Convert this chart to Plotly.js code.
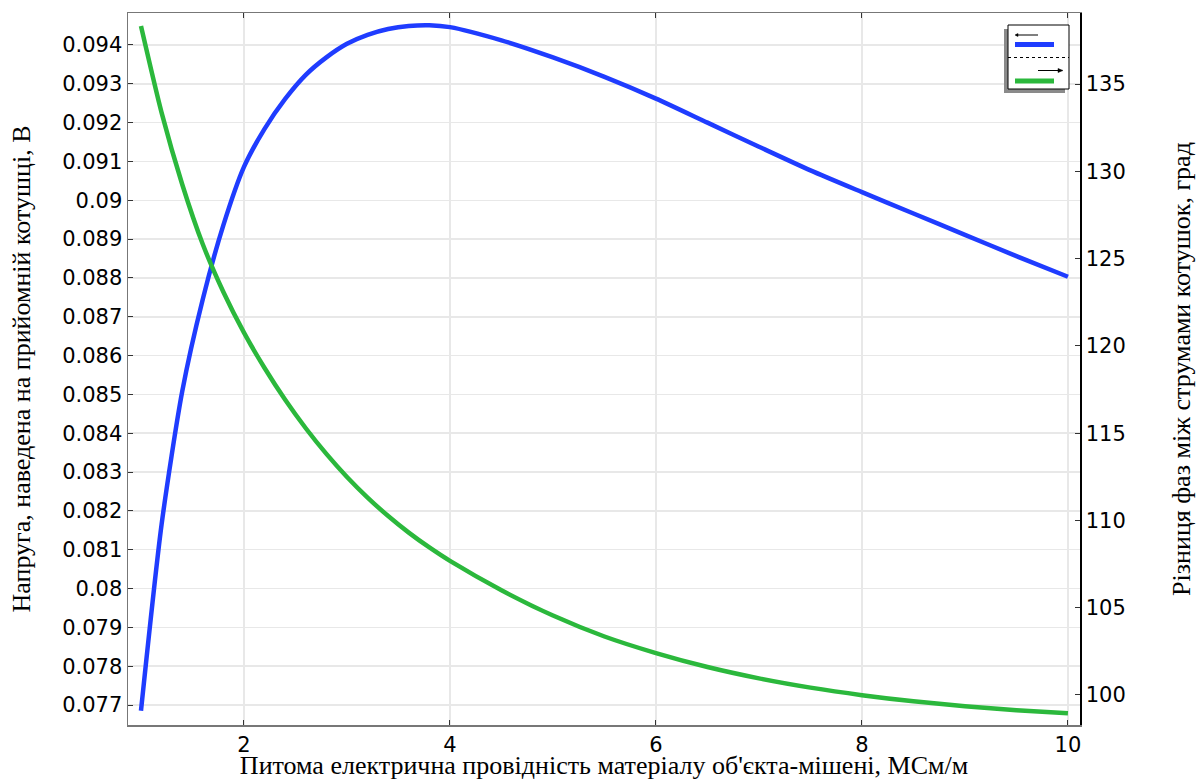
<!DOCTYPE html>
<html>
<head>
<meta charset="utf-8">
<script src="https://cdn.plot.ly/plotly-3.0.1.min.js"></script>
<style>html,body{margin:0;padding:0;background:#fff;}#chart{width:1201px;height:780px;}</style>
</head>
<body>
<div id="chart"></div>
<script>
// Conductivity, MS/m
const conductivity = [1.0, 1.2, 1.4, 1.6, 1.8, 2.0, 2.2, 2.4, 2.6, 2.8, 3.0, 3.2, 3.4, 3.6, 3.8, 4.0,
  4.5, 5.0, 5.5, 6.0, 6.5, 7.0, 7.5, 8.0, 8.5, 9.0, 9.5, 10.0];
// Voltage induced in receiving coil, V (left axis)
const voltage = [0.07685, 0.08165, 0.08507, 0.08745, 0.08936, 0.09086, 0.09184, 0.09261, 0.09323, 0.09368,
  0.09403, 0.09426, 0.09441, 0.09449, 0.09451, 0.09446,
  0.09412, 0.09368, 0.09318, 0.09262, 0.092, 0.09138, 0.09077, 0.09021, 0.08966, 0.08911, 0.08856, 0.08803];
// Phase difference between coil currents, deg (right axis)
const phase = [138.32, 133.36, 129.26, 125.82, 123.09, 120.76, 118.73, 116.91, 115.28, 113.81,
  112.49, 111.31, 110.25, 109.3, 108.45, 107.68,
  106.0, 104.55, 103.35, 102.4, 101.6, 100.95, 100.42, 99.99, 99.64, 99.36, 99.13, 98.95];

const xTickVals = [2, 4, 6, 8, 10];
const yTickVals = [0.077, 0.078, 0.079, 0.08, 0.081, 0.082, 0.083, 0.084, 0.085, 0.086, 0.087, 0.088,
  0.089, 0.09, 0.091, 0.092, 0.093, 0.094];
const yTickText = ['0.077', '0.078', '0.079', '0.08', '0.081', '0.082', '0.083', '0.084', '0.085', '0.086',
  '0.087', '0.088', '0.089', '0.09', '0.091', '0.092', '0.093', '0.094'];
const y2TickVals = [100, 105, 110, 115, 120, 125, 130, 135];

const xTitle = "Питома електрична провідність матеріалу об'єкта-мішені, МСм/м";
const yTitle = "Напруга, наведена на прийомній котушці, В";
const y2Title = "Різниця фаз між струмами котушок, град";

const BLUE = '#1f3cff';
const GREEN = '#2bb83c';

// plot area in pixels (for the legend-box drawing)
const L = 128, R = 1080, T = 13, B = 725;
const px = v => (v - L) / (R - L);
const py = v => (B - v) / (B - T);

const traces = [
  {x: conductivity, y: voltage, type: 'scatter', mode: 'lines', name: 'Напруга',
   line: {color: BLUE, width: 4.5, shape: 'spline', smoothing: 0.7}, yaxis: 'y', hoverinfo: 'x+y'},
  {x: conductivity, y: phase, type: 'scatter', mode: 'lines', name: 'Різниця фаз',
   line: {color: GREEN, width: 4.5, shape: 'spline', smoothing: 0.7}, yaxis: 'y2', hoverinfo: 'x+y'}
];

const tickFont = {family: 'DejaVu Sans, sans-serif', size: 21, color: '#000'};
const titleFont = {family: 'Liberation Serif, serif', size: 26, color: '#000'};

const shapes = [
  // shadow
  {type: 'rect', xref: 'paper', yref: 'paper', x0: px(1004), x1: px(1065), y0: py(93), y1: py(29),
   fillcolor: '#8a8a8a', line: {width: 0}, layer: 'above'},
  // box
  {type: 'rect', xref: 'paper', yref: 'paper', x0: px(1008), x1: px(1069), y0: py(89), y1: py(25),
   fillcolor: '#ffffff', line: {color: '#000', width: 1}, layer: 'above'},
  // left arrow
  {type: 'line', xref: 'paper', yref: 'paper', x0: px(1016), x1: px(1038), y0: py(35), y1: py(35),
   line: {color: '#000', width: 1}, layer: 'above'},
  {type: 'path', xref: 'paper', yref: 'paper',
   path: `M ${px(1015)} ${py(35)} L ${px(1018)} ${py(33.5)} L ${px(1018)} ${py(36.5)} Z`,
   fillcolor: '#000', line: {color: '#000', width: 0.5}, layer: 'above'},
  // blue bar
  {type: 'line', xref: 'paper', yref: 'paper', x0: px(1015), x1: px(1054), y0: py(44.5), y1: py(44.5),
   line: {color: BLUE, width: 5}, layer: 'above'},
  // dotted separator
  {type: 'line', xref: 'paper', yref: 'paper', x0: px(1008), x1: px(1069), y0: py(57.5), y1: py(57.5),
   line: {color: '#000', width: 1, dash: 'dot'}, layer: 'above'},
  // right arrow
  {type: 'line', xref: 'paper', yref: 'paper', x0: px(1038), x1: px(1061), y0: py(70.5), y1: py(70.5),
   line: {color: '#000', width: 1}, layer: 'above'},
  {type: 'path', xref: 'paper', yref: 'paper',
   path: `M ${px(1063)} ${py(70.5)} L ${px(1058)} ${py(68.5)} L ${px(1058)} ${py(72.5)} Z`,
   fillcolor: '#000', line: {color: '#000', width: 0.5}, layer: 'above'},
  // green bar
  {type: 'line', xref: 'paper', yref: 'paper', x0: px(1015), x1: px(1054), y0: py(81), y1: py(81),
   line: {color: GREEN, width: 5}, layer: 'above'}
];

const layout = {
  width: 1201, height: 780,
  margin: {l: 128, r: 121, t: 13, b: 55, pad: 0},
  paper_bgcolor: '#fff', plot_bgcolor: '#fff',
  showlegend: false,
  xaxis: {
    range: [0.874, 10.117], tickmode: 'array', tickvals: xTickVals,
    ticks: 'inside', ticklen: 5, tickcolor: '#333', tickwidth: 1,
    showline: true, linecolor: '#777', linewidth: 1.5, mirror: 'ticks',
    showgrid: true, gridcolor: '#e8e8e8', gridwidth: 1.5, zeroline: false,
    tickfont: tickFont,
    title: {text: xTitle, font: titleFont, standoff: 12},
    automargin: false
  },
  yaxis: {
    range: [0.076485, 0.094824], tickmode: 'array', tickvals: yTickVals, ticktext: yTickText,
    ticks: 'inside', ticklen: 5, tickcolor: '#333', tickwidth: 1,
    showline: true, linecolor: '#777', linewidth: 1.5,
    showgrid: true, gridcolor: '#e8e8e8', gridwidth: 1.5, zeroline: false,
    tickfont: tickFont,
    title: {text: yTitle, font: titleFont, standoff: 24},
    automargin: false
  },
  yaxis2: {
    overlaying: 'y', side: 'right',
    range: [98.28, 139.07], tickmode: 'array', tickvals: y2TickVals,
    ticks: 'inside', ticklen: 5, tickcolor: '#333', tickwidth: 1,
    showline: true, linecolor: '#000', linewidth: 1.5,
    showgrid: false, zeroline: false,
    tickfont: tickFont,
    title: {text: y2Title, font: titleFont, standoff: 47},
    automargin: false
  },
  shapes: shapes
};

Plotly.newPlot('chart', traces, layout, {displayModeBar: false, staticPlot: true});
</script>
</body>
</html>
